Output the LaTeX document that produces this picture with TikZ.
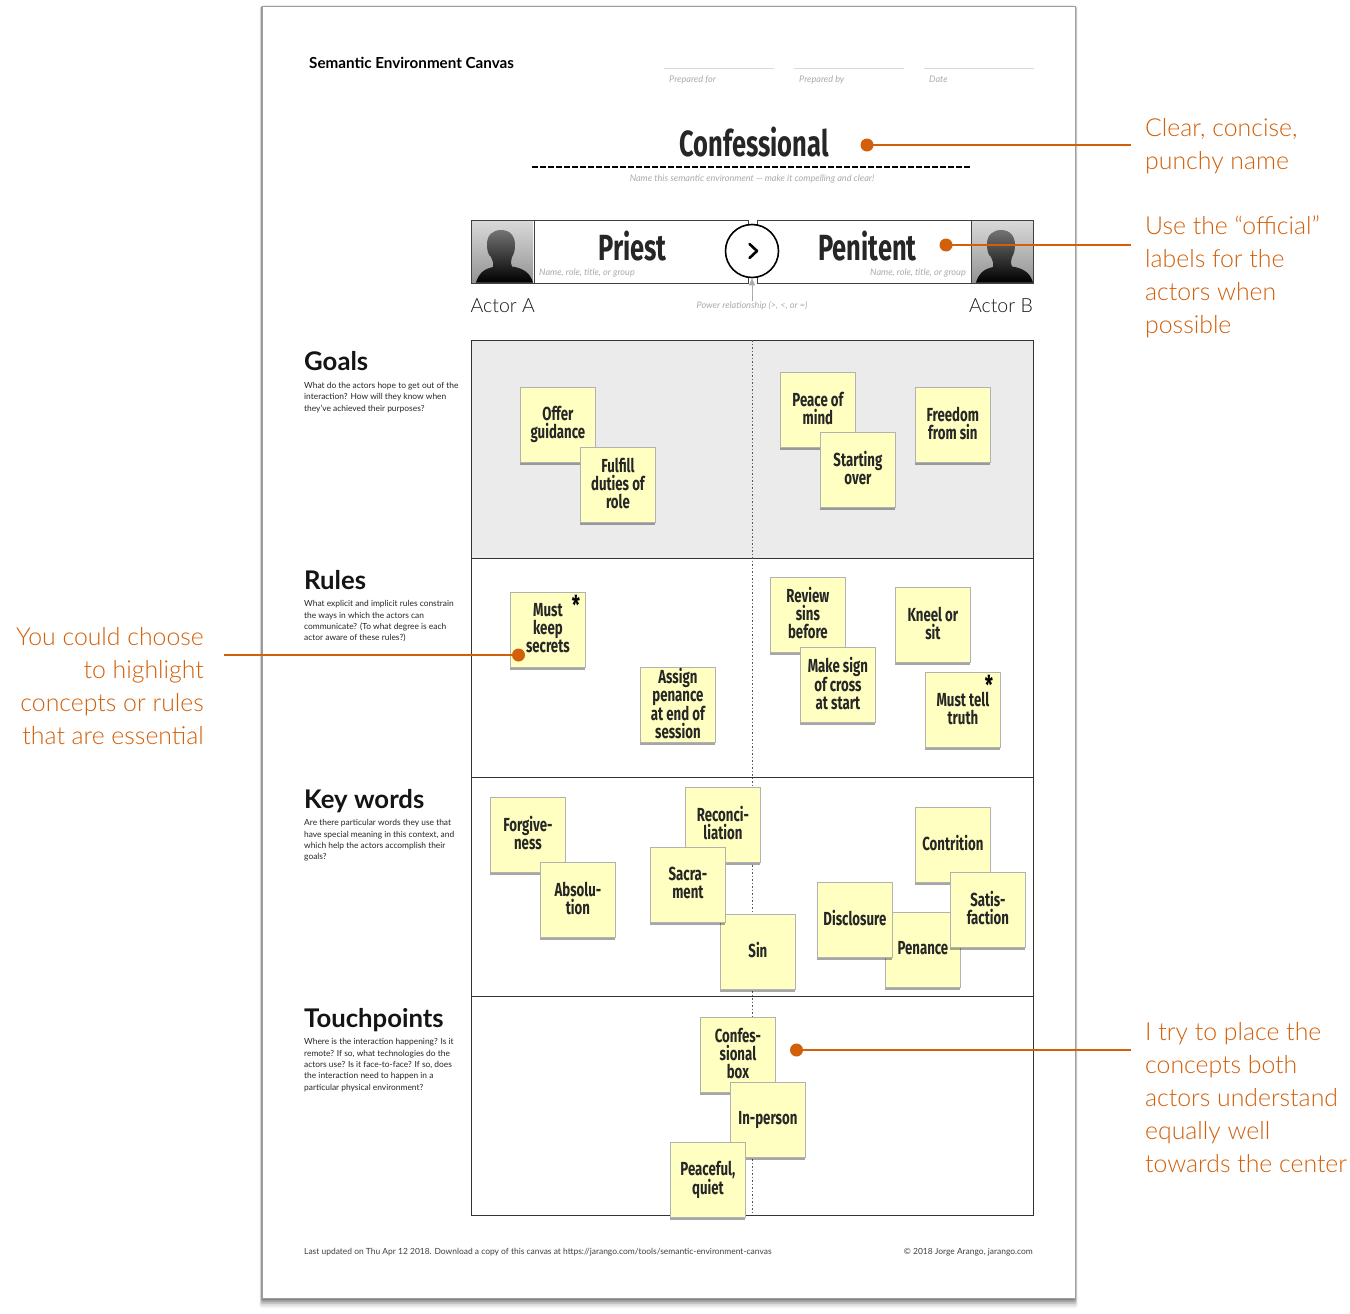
\documentclass[tikz,border=0pt]{standalone}
\usepackage{fontspec}
\setmainfont{Lato}
\newfontfamily\lightf{Lato Light}
\newfontfamily\marker[FakeStretch=0.7]{Fira Sans}
\usetikzlibrary{shadows,arrows.meta}
\definecolor{orangeC}{HTML}{D2600A}
\definecolor{stickyC}{HTML}{FFFFC2}
\definecolor{hintC}{HTML}{ABABAB}
\definecolor{goalC}{HTML}{EBEBEB}
\newcommand{\fs}[2]{\fontsize{#1}{#2}\selectfont}
\tikzset{
  x=1pt,y=-1pt,
  stickybox/.style={draw=black!30,line width=.8pt,fill=stickyC,minimum width=75pt,minimum height=75pt,inner sep=0pt,
    anchor=north west,
    drop shadow={shadow xshift=0pt,shadow yshift=-3pt,fill=black,opacity=.35}},
  stickytext/.style={inner sep=0pt,align=center,text=black!85,font={\marker\bfseries\fs{18.9}{18}}},
  star/.style={anchor=center,inner sep=0pt,font={\marker\bfseries\fs{26}{20}}},
  callout/.style={anchor=north west,align=left,inner sep=0pt,text=orangeC,font={\lightf\fs{24.8}{33}}},
  calloutR/.style={callout,anchor=north east,align=right},
  dotn/.style={circle,fill=orangeC,minimum size=13pt,inner sep=0pt},
  leader/.style={draw=orangeC,line width=2pt},
  hint/.style={text=hintC,inner sep=0pt,font={\itshape\fs{9.1}{10}}},
  rowhead/.style={anchor=base west,inner sep=0pt,font={\fs{25.7}{28}\bfseries},text=black!92},
  rowtext/.style={anchor=north west,inner sep=0pt,align=left,font=\fs{8.4}{11.35},text=black!85},
  rowbox/.style={draw=black!80,line width=1pt},
  actorbox/.style={draw=black!75,line width=1pt,fill=white},
  bigname/.style={inner sep=0pt,font={\marker\bfseries\fs{36.4}{36}},text=black!85},
  footer/.style={inner sep=0pt,font=\fs{8.45}{10},text=black!75},
  actorlab/.style={inner sep=0pt,font={\lightf\fs{19.5}{20}},text=black!90},
  headshot/.style={top color=black!55,bottom color=black,draw=none},
}
\newcommand{\sticky}[5][1.5pt]{%
  \node[stickybox] (#2) at (#3,#4) {};
  \node[stickytext] (#2t) at ([yshift=#1]#2.center) {#5};}
\newcommand{\silhouette}[1]{%
  \begin{scope}[shift={(#1,0)}]
    \path[top color=black!15,bottom color=black!42] (472,221) rectangle (533,282);
    \path[headshot] (476,282.5) .. controls (479,273) and (484,269) .. (493,267) .. controls (494,264) and (493,262) .. (491,257)
      .. controls (488,255) and (487,250) .. (487,244) .. controls (487,235) and (493,230) .. (501,230)
      .. controls (510,230) and (515,236) .. (515,245) .. controls (515,250) and (514,254) .. (512,257)
      .. controls (511,262) and (510,264) .. (512,266.5) .. controls (522,268) and (530,272) .. (533,282.5) -- cycle;
  \end{scope}}
\begin{document}
\begin{tikzpicture}
\useasboundingbox (0,0) rectangle (1350,1314);
\fill[white] (0,0) rectangle (1350,1314);
% paper
\foreach \o/\a in {10/.05,8/.08,6/.12,4/.16,2/.2}{\fill[black,opacity=\a,rounded corners=2pt] (262-\o/4,6) rectangle (1075+\o/4,1298+\o);}
\fill[white,draw=black!38,line width=1pt] (262.5,6.5) rectangle (1075.5,1298.5);
% heading
\node[anchor=west,inner sep=0pt,font={\fs{15.2}{16}\bfseries},text=black] (title) at (309,63) {Semantic Environment Canvas};
\foreach \a/\b/\t/\n in {664/774/Prepared for/pf,794/904/Prepared by/pb,924/1034/Date/dt}{
  \draw[black!15,line width=1pt] (\a,69) -- (\b,69);
  \node[hint,anchor=base west] (\n) at (\a+5,82) {\t};
}
\node[bigname] (name) at (754,142) {Confessional};
\draw[black,line width=2pt,dash pattern=on 5.5pt off 2.5pt] (532,167) -- (970,167);
\node[hint] (namehint) at (752,179) {Name this semantic environment — make it compelling and clear!};
% actors
\draw[actorbox] (471,220) rectangle (748,283);
\draw[actorbox] (757,220) rectangle (1033.5,283);
\silhouette{0}
\silhouette{500}
\draw[black!75,line width=1pt] (534,220) -- (534,283);
\draw[black!75,line width=1pt] (971,220) -- (971,283);
\draw[actorbox,fill=none] (471,220) rectangle (748,283);
\draw[actorbox,fill=none] (757,220) rectangle (1033.5,283);
\node[bigname] (priest) at (632.5,246) {Priest};
\node[bigname] (penitent) at (867.5,246) {Penitent};
\node[hint,anchor=west] (ha) at (539,272.5) {Name, role, title, or group};
\node[hint,anchor=east] (hb) at (966,272.5) {Name, role, title, or group};
\node[circle,draw=black,line width=1.6pt,fill=white,minimum size=53pt,inner sep=0pt] (rel) at (752,251) {};
\draw[black,line width=2.6pt,line cap=round,line join=round] (749.5,244) -- (757,251) -- (749.5,258);
\node[actorlab,anchor=west] (actA) at (470.5,305.5) {Actor A};
\node[actorlab,anchor=east] (actB) at (1033,305.5) {Actor B};
\node[hint] (power) at (752,306) {Power relationship (>, <, or =)};
\draw[hintC,line width=1pt,-{Triangle[length=7pt,width=6pt]}] (power.north) -- (rel.south);
% rows
\fill[goalC] (471,340) rectangle (1033.5,558);
\foreach \y/\yy in {340/558,558/777,777/996,996/1215}{\draw[rowbox] (471,\y) rectangle (1033.5,\yy);}
\coordinate (ctop) at (752,340);
\coordinate (cbot) at (752,1215);
\draw[black!65,line width=1pt,dash pattern=on 1.5pt off 2pt] (ctop) -- (cbot);
\node[rowhead] (h1) at (304,370) {Goals};
\node[rowtext] (t1) at (304,382) {What do the actors hope to get out of the\\interaction? How will they know when\\they’ve achieved their purposes?};
\node[rowhead] (h2) at (304,589) {Rules};
\node[rowtext] (t2) at (304,600.5) {What explicit and implicit rules constrain\\the ways in which the actors can\\communicate? (To what degree is each\\actor aware of these rules?)};
\node[rowhead] (h3) at (304,808) {Key words};
\node[rowtext] (t3) at (304,819.5) {Are there particular words they use that\\have special meaning in this context, and\\which help the actors accomplish their\\goals?};
\node[rowhead] (h4) at (304,1027) {Touchpoints};
\node[rowtext] (t4) at (304,1038.5) {Where is the interaction happening? Is it\\remote? If so, what technologies do the\\actors use? Is it face-to-face? If so, does\\the interaction need to happen in a\\particular physical environment?};
% stickies
\sticky[0pt]{s1}{520}{387}{Offer\\guidance}
\sticky{s2}{580}{447}{Fulfill\\duties of\\role}
\sticky{s3}{780}{372}{Peace of\\mind}
\sticky{s4}{820}{432}{Starting\\over}
\sticky{s5}{915}{387}{Freedom\\from sin}
\sticky{s6}{510}{592}{Must\\keep\\secrets}
\node[star] (a1) at (576,614) {\smash{*}};
\sticky{s7}{640}{667}{Assign\\penance\\at end of\\session}
\sticky{s8}{770}{577}{Review\\sins\\before}
\sticky{s9}{800}{647}{Make sign\\of cross\\at start}
\sticky{s10}{895}{587}{Kneel or\\sit}
\sticky{s11}{925}{672}{Must tell\\truth}
\node[star] (a2) at (989,694) {\smash{*}};
\sticky{s12}{490}{797}{Forgive-\\ness}
\sticky{s13}{540}{862}{Absolu-\\tion}
\sticky{s14}{685}{787}{Reconci-\\liation}
\sticky{s15}{720}{914}{Sin}
\sticky{s16}{650}{847}{Sacra-\\ment}
\sticky{s17}{915}{807}{Contrition}
\sticky{s18}{885}{912}{Penance}
\sticky{s19}{817}{882}{Disclosure}
\sticky{s20}{950}{872}{Satis-\\faction}
\sticky{s21}{700}{1017}{Confes-\\sional\\box}
\sticky[-.5pt]{s22}{730}{1082}{In-person}
\sticky[0pt]{s23}{670}{1142}{Peaceful,\\quiet}
% footer
\node[footer,anchor=west] (f1) at (304,1252) {Last updated on Thu Apr 12 2018. Download a copy of this canvas at https://jarango.com/tools/semantic-environment-canvas};
\node[footer,anchor=east] (f2) at (1033,1252) {© 2018 Jorge Arango, jarango.com};
% callouts
\node[callout] (c1) at (1145,118) {Clear, concise,\\punchy name};
\node[callout] (c2) at (1145,216) {Use the “official”\\labels for the\\actors when\\possible};
\node[calloutR] (c3) at (204,627) {You could choose\\to highlight\\concepts or rules\\that are essential};
\node[callout] (c4) at (1145,1022) {I try to place the\\concepts both\\actors understand\\equally well\\towards the center};
\node[dotn] (d1) at (867,145) {};
\node[dotn] (d2) at (946,245) {};
\node[dotn] (d3) at (518.5,655) {};
\node[dotn] (d4) at (796.5,1050) {};
\coordinate (e1) at (1131,145);
\coordinate (e2) at (1131,245);
\coordinate (e3) at (224,655);
\coordinate (e4) at (1131,1050);
\draw[leader] (d1.center) -- (e1);
\draw[leader] (d2.center) -- (e2);
\draw[leader] (d3.center) -- (e3);
\draw[leader] (d4.center) -- (e4);
\end{tikzpicture}
\end{document}
